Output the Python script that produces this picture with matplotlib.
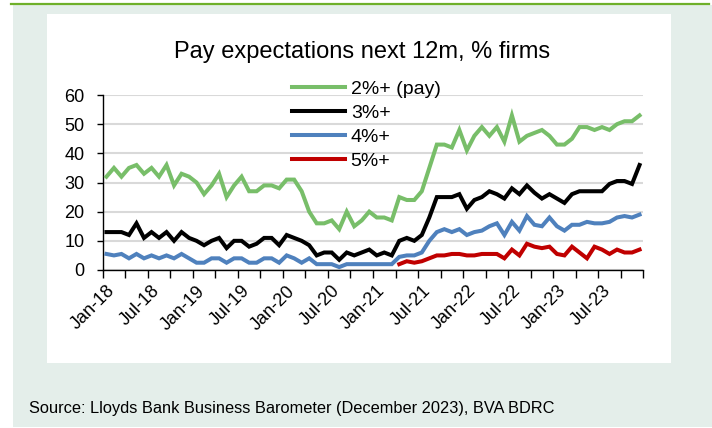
import numpy as np
import pandas as pd
import matplotlib
matplotlib.use("Agg")
import matplotlib.pyplot as plt
from matplotlib.patches import Rectangle
from matplotlib.lines import Line2D

# monthly survey, Jan-18 to Dec-23
months = pd.date_range("2018-01-01", periods=72, freq="MS")
month_labels = [d.strftime("%b-%y") for d in months]

pay2 = [32, 35, 32, 35, 36, 33, 35, 32, 36, 29, 33, 32, 30, 26, 29, 33, 25, 29, 32, 27,
        27, 29, 29, 28, 31, 31, 27, 20,
        16, 16, 17, 14, 20, 15, 17, 20, 18, 18, 17, 25, 24, 24, 27,
        35,
        43, 43, 42, 48, 41, 46, 49, 46, 49, 44, 53, 44, 46, 47,
        48, 46, 43, 43, 45, 49, 49, 48, 49, 48, 50, 51, 51, 53]

pay3 = [13, 13, 13, 12, 16, 11, 13, 11, 13, 10, 13, 11, 10, 8.5, 10, 11, 7.5, 10, 10, 8,
        9, 11, 11, 8.5, 12, 11, 10, 8.5,
        5, 6, 6, 3.5, 6, 5, 6, 7, 5, 6, 5, 10, 11, 10, 12,
        18,
        25, 25, 25, 26, 21, 24, 25, 27, 26, 24.5, 28, 26, 29, 26.5,
        24.5, 26, 24.5, 23, 26, 27, 27, 27, 27, 29.5, 30.5, 30.5, 29.5, 36]

pay4 = [5.5, 5, 5.5, 4, 5.5, 4, 5, 4, 5, 4, 5.5, 4, 2.5, 2.5, 4, 4, 2.5, 4, 4, 2.5,
        2.5, 4, 4, 2.5, 5, 4, 2.5, 4,
        2, 2, 2, 1, 2, 2, 2, 2, 2, 2, 2, 4.5, 5, 5, 6,
        10,
        13, 14, 13, 14, 12, 13, 13.5, 15, 16, 12, 16.5, 13.5, 18.5, 15.5,
        15, 18, 15, 13.5, 15.5, 15.5, 16.5, 16, 16, 16.5, 18, 18.5, 18, 19]

# 5%+ series only starts in Apr-21
pay5 = [np.nan] * 39 + [2, 3, 2.5, 3, 4, 5, 5, 5.5, 5.5, 5, 5, 5.5, 5.5, 5.5, 4, 7, 5,
                        9, 8, 7.5, 8, 5.5, 5, 8, 6, 4, 8, 7, 5.5, 7, 6, 6, 7]

series_names = ["2%+ (pay)", "3%+", "4%+", "5%+"]
series_colors = ["#78BE69", "#000000", "#4F81BD", "#C00000"]

W, H = 712, 428
plt.rcParams["font.family"] = ["Liberation Sans", "DejaVu Sans"]

fig = plt.figure(figsize=(W / 100, H / 100), dpi=100, facecolor="white")


def box(x0, y0, x1, y1, color):
    # rectangle given in pixel coords from the top-left corner
    fig.patches.append(Rectangle((x0 / W, 1 - y1 / H), (x1 - x0) / W, (y1 - y0) / H,
                                 transform=fig.transFigure, facecolor=color,
                                 edgecolor="none", zorder=-5))


box(12.7, 5, 712, 427, "#E4EEEA")
box(47, 14, 671, 363, "white")
fig.add_artist(Line2D([11 / W, 709 / W], [1 - 3.5 / H, 1 - 3.5 / H],
                      transform=fig.transFigure, color="#6FB02A", lw=1.6, zorder=-4))

ax = fig.add_axes([102.7 / W, 1 - 270 / H, (643.3 - 102.7) / W, 175 / H])
ax.set_facecolor("none")
ax.set_zorder(1)

x = np.arange(len(months))
for vals, name, col in zip([pay2, pay3, pay4, pay5], series_names, series_colors):
    ax.plot(x, vals, color=col, lw=2.9, label=name, solid_joinstyle="miter", zorder=3)

ax.set_xlim(-0.5, 71.5)
ax.set_ylim(0, 60)
ax.set_yticks(range(0, 61, 10))
ax.yaxis.grid(True, color="#D9D9D9", lw=1.5, zorder=0)
ax.set_axisbelow(True)

ax.set_xticks(x[::6])
ax.set_xticklabels(month_labels[::6], rotation=45, ha="right", rotation_mode="anchor")
ax.set_xticks(np.arange(-0.5, 72, 3), minor=True)
ax.tick_params(axis="x", which="major", length=0, pad=9, labelsize=13)
ax.tick_params(axis="x", which="minor", length=6, width=1, direction="out")
ax.tick_params(axis="y", length=4, width=1, pad=9, labelsize=13)

for s in ["top", "right"]:
    ax.spines[s].set_visible(False)
for s in ["left", "bottom"]:
    ax.spines[s].set_linewidth(1)
    ax.spines[s].set_color("black")

fig.text(362 / W, 1 - 52 / H, "Pay expectations next 12m, % firms",
         ha="center", va="center", fontsize=17)

ax.legend(loc="upper left", bbox_to_anchor=(292 / W, 1 - 80 / H),
          bbox_transform=fig.transFigure, frameon=False, fontsize=14,
          handlelength=2.7, handletextpad=0.32, labelspacing=0.34,
          borderpad=0, borderaxespad=0)

fig.text(29.5 / W, 1 - 408 / H,
         "Source: Lloyds Bank Business Barometer (December 2023), BVA BDRC",
         ha="left", va="center", fontsize=11.8)

fig.savefig("out.png", dpi=100, facecolor=fig.get_facecolor())
